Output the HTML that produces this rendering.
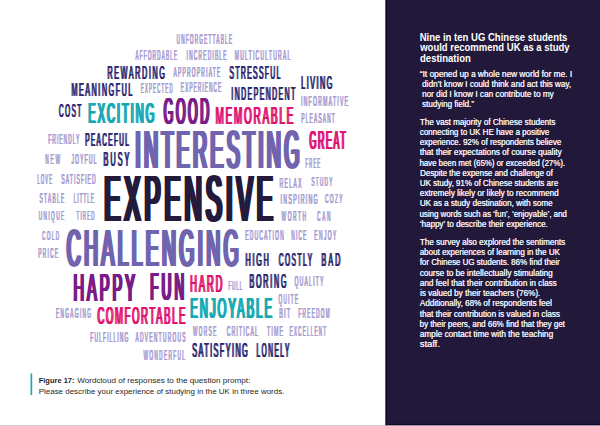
<!DOCTYPE html>
<html><head><meta charset="utf-8"><style>
html,body{margin:0;padding:0;background:#fff;width:600px;height:426px;overflow:hidden}
svg{display:block;font-family:"Liberation Sans",sans-serif}
</style></head><body>
<svg width="600" height="426" viewBox="0 0 600 426">
<rect x="0" y="0" width="600" height="426" fill="#fff"/>
<g font-weight="bold">
<g fill="#a89ed2" font-weight="normal"><text transform="translate(176.35,44.00) scale(0.3174,1)" font-size="14.53" textLength="174.22" lengthAdjust="spacing">UNFORGETTABLE</text><text transform="translate(176.65,44.00) scale(0.3174,1)" font-size="14.53" textLength="174.22" lengthAdjust="spacing">UNFORGETTABLE</text><text transform="translate(176.95,44.00) scale(0.3174,1)" font-size="14.53" textLength="174.22" lengthAdjust="spacing">UNFORGETTABLE</text></g>
<g fill="#a89ed2" font-weight="normal"><text transform="translate(135.21,60.00) scale(0.3161,1)" font-size="14.53" textLength="131.55" lengthAdjust="spacing">AFFORDABLE</text><text transform="translate(135.51,60.00) scale(0.3161,1)" font-size="14.53" textLength="131.55" lengthAdjust="spacing">AFFORDABLE</text><text transform="translate(135.81,60.00) scale(0.3161,1)" font-size="14.53" textLength="131.55" lengthAdjust="spacing">AFFORDABLE</text></g>
<g fill="#a89ed2" font-weight="normal"><text transform="translate(186.32,60.00) scale(0.3330,1)" font-size="14.53" textLength="119.71" lengthAdjust="spacing">INCREDIBLE</text><text transform="translate(186.62,60.00) scale(0.3330,1)" font-size="14.53" textLength="119.71" lengthAdjust="spacing">INCREDIBLE</text><text transform="translate(186.92,60.00) scale(0.3330,1)" font-size="14.53" textLength="119.71" lengthAdjust="spacing">INCREDIBLE</text></g>
<g fill="#a89ed2" font-weight="normal"><text transform="translate(234.44,60.00) scale(0.3453,1)" font-size="14.53" textLength="160.84" lengthAdjust="spacing">MULTICULTURAL</text><text transform="translate(234.74,60.00) scale(0.3453,1)" font-size="14.53" textLength="160.84" lengthAdjust="spacing">MULTICULTURAL</text><text transform="translate(235.04,60.00) scale(0.3453,1)" font-size="14.53" textLength="160.84" lengthAdjust="spacing">MULTICULTURAL</text></g>
<g fill="#2d2870" font-weight="normal"><text transform="translate(107.07,78.60) scale(0.3855,1)" font-size="18.31" textLength="148.76" lengthAdjust="spacing">REWARDING</text><text transform="translate(107.51,78.60) scale(0.3855,1)" font-size="18.31" textLength="148.76" lengthAdjust="spacing">REWARDING</text><text transform="translate(107.95,78.60) scale(0.3855,1)" font-size="18.31" textLength="148.76" lengthAdjust="spacing">REWARDING</text></g>
<g fill="#a89ed2" font-weight="normal"><text transform="translate(173.27,77.00) scale(0.3536,1)" font-size="13.81" textLength="132.24" lengthAdjust="spacing">APPROPRIATE</text><text transform="translate(173.56,77.00) scale(0.3536,1)" font-size="13.81" textLength="132.24" lengthAdjust="spacing">APPROPRIATE</text><text transform="translate(173.84,77.00) scale(0.3536,1)" font-size="13.81" textLength="132.24" lengthAdjust="spacing">APPROPRIATE</text></g>
<g fill="#2d2870" font-weight="normal"><text transform="translate(229.05,79.00) scale(0.3554,1)" font-size="18.90" textLength="143.12" lengthAdjust="spacing">STRESSFUL</text><text transform="translate(229.50,79.00) scale(0.3554,1)" font-size="18.90" textLength="143.12" lengthAdjust="spacing">STRESSFUL</text><text transform="translate(229.96,79.00) scale(0.3554,1)" font-size="18.90" textLength="143.12" lengthAdjust="spacing">STRESSFUL</text></g>
<g fill="#2d2870" font-weight="normal"><text transform="translate(300.71,89.00) scale(0.3856,1)" font-size="18.90" textLength="80.82" lengthAdjust="spacing">LIVING</text><text transform="translate(301.16,89.00) scale(0.3856,1)" font-size="18.90" textLength="80.82" lengthAdjust="spacing">LIVING</text><text transform="translate(301.62,89.00) scale(0.3856,1)" font-size="18.90" textLength="80.82" lengthAdjust="spacing">LIVING</text></g>
<g fill="#2d2870" font-weight="normal"><text transform="translate(71.01,96.00) scale(0.3771,1)" font-size="18.90" textLength="161.38" lengthAdjust="spacing">MEANINGFUL</text><text transform="translate(71.47,96.00) scale(0.3771,1)" font-size="18.90" textLength="161.38" lengthAdjust="spacing">MEANINGFUL</text><text transform="translate(71.92,96.00) scale(0.3771,1)" font-size="18.90" textLength="161.38" lengthAdjust="spacing">MEANINGFUL</text></g>
<g fill="#a89ed2" font-weight="normal"><text transform="translate(140.59,92.50) scale(0.3117,1)" font-size="13.81" textLength="101.60" lengthAdjust="spacing">EXPECTED</text><text transform="translate(140.88,92.50) scale(0.3117,1)" font-size="13.81" textLength="101.60" lengthAdjust="spacing">EXPECTED</text><text transform="translate(141.16,92.50) scale(0.3117,1)" font-size="13.81" textLength="101.60" lengthAdjust="spacing">EXPECTED</text></g>
<g fill="#a89ed2" font-weight="normal"><text transform="translate(180.59,91.70) scale(0.3244,1)" font-size="14.10" textLength="124.20" lengthAdjust="spacing">EXPERIENCE</text><text transform="translate(180.88,91.70) scale(0.3244,1)" font-size="14.10" textLength="124.20" lengthAdjust="spacing">EXPERIENCE</text><text transform="translate(181.17,91.70) scale(0.3244,1)" font-size="14.10" textLength="124.20" lengthAdjust="spacing">EXPERIENCE</text></g>
<g fill="#2d2870" font-weight="normal"><text transform="translate(230.88,100.00) scale(0.3732,1)" font-size="18.31" textLength="171.39" lengthAdjust="spacing">INDEPENDENT</text><text transform="translate(231.32,100.00) scale(0.3732,1)" font-size="18.31" textLength="171.39" lengthAdjust="spacing">INDEPENDENT</text><text transform="translate(231.76,100.00) scale(0.3732,1)" font-size="18.31" textLength="171.39" lengthAdjust="spacing">INDEPENDENT</text></g>
<g fill="#a89ed2" font-weight="normal"><text transform="translate(300.65,106.00) scale(0.3493,1)" font-size="14.53" textLength="134.67" lengthAdjust="spacing">INFORMATIVE</text><text transform="translate(300.95,106.00) scale(0.3493,1)" font-size="14.53" textLength="134.67" lengthAdjust="spacing">INFORMATIVE</text><text transform="translate(301.25,106.00) scale(0.3493,1)" font-size="14.53" textLength="134.67" lengthAdjust="spacing">INFORMATIVE</text></g>
<g fill="#2d2870" font-weight="normal"><text transform="translate(58.50,117.00) scale(0.3702,1)" font-size="17.44" textLength="60.49" lengthAdjust="spacing">COST</text><text transform="translate(58.92,117.00) scale(0.3702,1)" font-size="17.44" textLength="60.49" lengthAdjust="spacing">COST</text><text transform="translate(59.34,117.00) scale(0.3702,1)" font-size="17.44" textLength="60.49" lengthAdjust="spacing">COST</text></g>
<g fill="#17a9b3" font-weight="normal"><text transform="translate(87.41,123.00) scale(0.3795,1)" font-size="29.65" textLength="174.26" lengthAdjust="spacing">EXCITING</text><text transform="translate(87.95,123.00) scale(0.3795,1)" font-size="29.65" textLength="174.26" lengthAdjust="spacing">EXCITING</text><text transform="translate(88.50,123.00) scale(0.3795,1)" font-size="29.65" textLength="174.26" lengthAdjust="spacing">EXCITING</text><text transform="translate(89.04,123.00) scale(0.3795,1)" font-size="29.65" textLength="174.26" lengthAdjust="spacing">EXCITING</text></g>
<g fill="#7a1b87" font-weight="normal"><text transform="translate(162.67,124.00) scale(0.3387,1)" font-size="36.34" textLength="134.45" lengthAdjust="spacing">GOOD</text><text transform="translate(163.34,124.00) scale(0.3387,1)" font-size="36.34" textLength="134.45" lengthAdjust="spacing">GOOD</text><text transform="translate(164.00,124.00) scale(0.3387,1)" font-size="36.34" textLength="134.45" lengthAdjust="spacing">GOOD</text><text transform="translate(164.67,124.00) scale(0.3387,1)" font-size="36.34" textLength="134.45" lengthAdjust="spacing">GOOD</text></g>
<g fill="#e0116f" font-weight="normal"><text transform="translate(214.88,123.50) scale(0.4095,1)" font-size="23.98" textLength="189.98" lengthAdjust="spacing">MEMORABLE</text><text transform="translate(215.54,123.50) scale(0.4095,1)" font-size="23.98" textLength="189.98" lengthAdjust="spacing">MEMORABLE</text><text transform="translate(216.20,123.50) scale(0.4095,1)" font-size="23.98" textLength="189.98" lengthAdjust="spacing">MEMORABLE</text></g>
<g fill="#a89ed2" font-weight="normal"><text transform="translate(301.07,122.60) scale(0.3285,1)" font-size="14.53" textLength="101.59" lengthAdjust="spacing">PLEASANT</text><text transform="translate(301.37,122.60) scale(0.3285,1)" font-size="14.53" textLength="101.59" lengthAdjust="spacing">PLEASANT</text><text transform="translate(301.67,122.60) scale(0.3285,1)" font-size="14.53" textLength="101.59" lengthAdjust="spacing">PLEASANT</text></g>
<g fill="#a89ed2" font-weight="normal"><text transform="translate(48.07,143.60) scale(0.3394,1)" font-size="13.95" textLength="91.10" lengthAdjust="spacing">FRIENDLY</text><text transform="translate(48.36,143.60) scale(0.3394,1)" font-size="13.95" textLength="91.10" lengthAdjust="spacing">FRIENDLY</text><text transform="translate(48.65,143.60) scale(0.3394,1)" font-size="13.95" textLength="91.10" lengthAdjust="spacing">FRIENDLY</text></g>
<g fill="#2d2870" font-weight="normal"><text transform="translate(84.75,146.00) scale(0.3401,1)" font-size="18.90" textLength="128.43" lengthAdjust="spacing">PEACEFUL</text><text transform="translate(85.20,146.00) scale(0.3401,1)" font-size="18.90" textLength="128.43" lengthAdjust="spacing">PEACEFUL</text><text transform="translate(85.66,146.00) scale(0.3401,1)" font-size="18.90" textLength="128.43" lengthAdjust="spacing">PEACEFUL</text></g>
<g fill="#7064ae" font-weight="normal"><text transform="translate(133.82,167.50) scale(0.3590,1)" font-size="54.51" textLength="457.25" lengthAdjust="spacing">INTERESTING</text><text transform="translate(134.42,167.50) scale(0.3590,1)" font-size="54.51" textLength="457.25" lengthAdjust="spacing">INTERESTING</text><text transform="translate(135.02,167.50) scale(0.3590,1)" font-size="54.51" textLength="457.25" lengthAdjust="spacing">INTERESTING</text><text transform="translate(135.62,167.50) scale(0.3590,1)" font-size="54.51" textLength="457.25" lengthAdjust="spacing">INTERESTING</text><text transform="translate(136.22,167.50) scale(0.3590,1)" font-size="54.51" textLength="457.25" lengthAdjust="spacing">INTERESTING</text><text transform="translate(136.82,167.50) scale(0.3590,1)" font-size="54.51" textLength="457.25" lengthAdjust="spacing">INTERESTING</text></g>
<g fill="#e0116f" font-weight="normal"><text transform="translate(308.85,148.50) scale(0.3492,1)" font-size="25.44" textLength="103.37" lengthAdjust="spacing">GREAT</text><text transform="translate(309.32,148.50) scale(0.3492,1)" font-size="25.44" textLength="103.37" lengthAdjust="spacing">GREAT</text><text transform="translate(309.79,148.50) scale(0.3492,1)" font-size="25.44" textLength="103.37" lengthAdjust="spacing">GREAT</text><text transform="translate(310.25,148.50) scale(0.3492,1)" font-size="25.44" textLength="103.37" lengthAdjust="spacing">GREAT</text></g>
<g fill="#a89ed2" font-weight="normal"><text transform="translate(45.07,163.60) scale(0.3273,1)" font-size="14.53" textLength="44.92" lengthAdjust="spacing">NEW</text><text transform="translate(45.37,163.60) scale(0.3273,1)" font-size="14.53" textLength="44.92" lengthAdjust="spacing">NEW</text><text transform="translate(45.67,163.60) scale(0.3273,1)" font-size="14.53" textLength="44.92" lengthAdjust="spacing">NEW</text></g>
<g fill="#a89ed2" font-weight="normal"><text transform="translate(71.16,163.60) scale(0.3364,1)" font-size="14.53" textLength="73.83" lengthAdjust="spacing">JOYFUL</text><text transform="translate(71.46,163.60) scale(0.3364,1)" font-size="14.53" textLength="73.83" lengthAdjust="spacing">JOYFUL</text><text transform="translate(71.76,163.60) scale(0.3364,1)" font-size="14.53" textLength="73.83" lengthAdjust="spacing">JOYFUL</text></g>
<g fill="#2d2870" font-weight="normal"><text transform="translate(103.09,166.40) scale(0.3726,1)" font-size="19.48" textLength="69.13" lengthAdjust="spacing">BUSY</text><text transform="translate(103.56,166.40) scale(0.3726,1)" font-size="19.48" textLength="69.13" lengthAdjust="spacing">BUSY</text><text transform="translate(104.03,166.40) scale(0.3726,1)" font-size="19.48" textLength="69.13" lengthAdjust="spacing">BUSY</text></g>
<g fill="#a89ed2" font-weight="normal"><text transform="translate(305.25,167.60) scale(0.2867,1)" font-size="13.95" textLength="50.56" lengthAdjust="spacing">FREE</text><text transform="translate(305.54,167.60) scale(0.2867,1)" font-size="13.95" textLength="50.56" lengthAdjust="spacing">FREE</text><text transform="translate(305.82,167.60) scale(0.2867,1)" font-size="13.95" textLength="50.56" lengthAdjust="spacing">FREE</text></g>
<g fill="#a89ed2" font-weight="normal"><text transform="translate(37.09,184.00) scale(0.2863,1)" font-size="14.53" textLength="51.12" lengthAdjust="spacing">LOVE</text><text transform="translate(37.39,184.00) scale(0.2863,1)" font-size="14.53" textLength="51.12" lengthAdjust="spacing">LOVE</text><text transform="translate(37.69,184.00) scale(0.2863,1)" font-size="14.53" textLength="51.12" lengthAdjust="spacing">LOVE</text></g>
<g fill="#a89ed2" font-weight="normal"><text transform="translate(61.07,184.00) scale(0.3408,1)" font-size="14.53" textLength="100.44" lengthAdjust="spacing">SATISFIED</text><text transform="translate(61.37,184.00) scale(0.3408,1)" font-size="14.53" textLength="100.44" lengthAdjust="spacing">SATISFIED</text><text transform="translate(61.67,184.00) scale(0.3408,1)" font-size="14.53" textLength="100.44" lengthAdjust="spacing">SATISFIED</text></g>
<g fill="#241a3c" font-weight="normal"><text transform="translate(102.53,221.00) scale(0.3660,1)" font-size="65.41" textLength="460.08" lengthAdjust="spacing">EXPENSIVE</text><text transform="translate(103.13,221.00) scale(0.3660,1)" font-size="65.41" textLength="460.08" lengthAdjust="spacing">EXPENSIVE</text><text transform="translate(103.73,221.00) scale(0.3660,1)" font-size="65.41" textLength="460.08" lengthAdjust="spacing">EXPENSIVE</text><text transform="translate(104.33,221.00) scale(0.3660,1)" font-size="65.41" textLength="460.08" lengthAdjust="spacing">EXPENSIVE</text><text transform="translate(104.93,221.00) scale(0.3660,1)" font-size="65.41" textLength="460.08" lengthAdjust="spacing">EXPENSIVE</text><text transform="translate(105.53,221.00) scale(0.3660,1)" font-size="65.41" textLength="460.08" lengthAdjust="spacing">EXPENSIVE</text><text transform="translate(106.13,221.00) scale(0.3660,1)" font-size="65.41" textLength="460.08" lengthAdjust="spacing">EXPENSIVE</text></g>
<g fill="#a89ed2" font-weight="normal"><text transform="translate(279.31,187.60) scale(0.3465,1)" font-size="13.95" textLength="62.86" lengthAdjust="spacing">RELAX</text><text transform="translate(279.60,187.60) scale(0.3465,1)" font-size="13.95" textLength="62.86" lengthAdjust="spacing">RELAX</text><text transform="translate(279.89,187.60) scale(0.3465,1)" font-size="13.95" textLength="62.86" lengthAdjust="spacing">RELAX</text></g>
<g fill="#a89ed2" font-weight="normal"><text transform="translate(311.09,186.40) scale(0.3421,1)" font-size="13.66" textLength="61.12" lengthAdjust="spacing">STUDY</text><text transform="translate(311.38,186.40) scale(0.3421,1)" font-size="13.66" textLength="61.12" lengthAdjust="spacing">STUDY</text><text transform="translate(311.66,186.40) scale(0.3421,1)" font-size="13.66" textLength="61.12" lengthAdjust="spacing">STUDY</text></g>
<g fill="#a89ed2" font-weight="normal"><text transform="translate(39.29,202.60) scale(0.3406,1)" font-size="13.95" textLength="71.96" lengthAdjust="spacing">STABLE</text><text transform="translate(39.58,202.60) scale(0.3406,1)" font-size="13.95" textLength="71.96" lengthAdjust="spacing">STABLE</text><text transform="translate(39.87,202.60) scale(0.3406,1)" font-size="13.95" textLength="71.96" lengthAdjust="spacing">STABLE</text></g>
<g fill="#a89ed2" font-weight="normal"><text transform="translate(73.51,202.60) scale(0.3340,1)" font-size="13.95" textLength="60.34" lengthAdjust="spacing">LITTLE</text><text transform="translate(73.80,202.60) scale(0.3340,1)" font-size="13.95" textLength="60.34" lengthAdjust="spacing">LITTLE</text><text transform="translate(74.09,202.60) scale(0.3340,1)" font-size="13.95" textLength="60.34" lengthAdjust="spacing">LITTLE</text></g>
<g fill="#a89ed2" font-weight="normal"><text transform="translate(280.29,204.40) scale(0.3720,1)" font-size="14.24" textLength="99.75" lengthAdjust="spacing">INSPIRING</text><text transform="translate(280.58,204.40) scale(0.3720,1)" font-size="14.24" textLength="99.75" lengthAdjust="spacing">INSPIRING</text><text transform="translate(280.87,204.40) scale(0.3720,1)" font-size="14.24" textLength="99.75" lengthAdjust="spacing">INSPIRING</text></g>
<g fill="#a89ed2" font-weight="normal"><text transform="translate(324.83,203.00) scale(0.3416,1)" font-size="13.66" textLength="50.29" lengthAdjust="spacing">COZY</text><text transform="translate(325.11,203.00) scale(0.3416,1)" font-size="13.66" textLength="50.29" lengthAdjust="spacing">COZY</text><text transform="translate(325.40,203.00) scale(0.3416,1)" font-size="13.66" textLength="50.29" lengthAdjust="spacing">COZY</text></g>
<g fill="#a89ed2" font-weight="normal"><text transform="translate(38.44,220.00) scale(0.3524,1)" font-size="13.66" textLength="72.42" lengthAdjust="spacing">UNIQUE</text><text transform="translate(38.72,220.00) scale(0.3524,1)" font-size="13.66" textLength="72.42" lengthAdjust="spacing">UNIQUE</text><text transform="translate(39.00,220.00) scale(0.3524,1)" font-size="13.66" textLength="72.42" lengthAdjust="spacing">UNIQUE</text></g>
<g fill="#a89ed2" font-weight="normal"><text transform="translate(76.30,220.00) scale(0.3269,1)" font-size="13.66" textLength="55.00" lengthAdjust="spacing">TIRED</text><text transform="translate(76.58,220.00) scale(0.3269,1)" font-size="13.66" textLength="55.00" lengthAdjust="spacing">TIRED</text><text transform="translate(76.87,220.00) scale(0.3269,1)" font-size="13.66" textLength="55.00" lengthAdjust="spacing">TIRED</text></g>
<g fill="#a89ed2" font-weight="normal"><text transform="translate(281.24,221.00) scale(0.3428,1)" font-size="14.10" textLength="71.56" lengthAdjust="spacing">WORTH</text><text transform="translate(281.53,221.00) scale(0.3428,1)" font-size="14.10" textLength="71.56" lengthAdjust="spacing">WORTH</text><text transform="translate(281.83,221.00) scale(0.3428,1)" font-size="14.10" textLength="71.56" lengthAdjust="spacing">WORTH</text></g>
<g fill="#a89ed2" font-weight="normal"><text transform="translate(316.83,221.00) scale(0.3147,1)" font-size="14.53" textLength="42.14" lengthAdjust="spacing">CAN</text><text transform="translate(317.13,221.00) scale(0.3147,1)" font-size="14.53" textLength="42.14" lengthAdjust="spacing">CAN</text><text transform="translate(317.43,221.00) scale(0.3147,1)" font-size="14.53" textLength="42.14" lengthAdjust="spacing">CAN</text></g>
<g fill="#a89ed2" font-weight="normal"><text transform="translate(41.83,240.00) scale(0.3339,1)" font-size="13.66" textLength="51.01" lengthAdjust="spacing">COLD</text><text transform="translate(42.11,240.00) scale(0.3339,1)" font-size="13.66" textLength="51.01" lengthAdjust="spacing">COLD</text><text transform="translate(42.39,240.00) scale(0.3339,1)" font-size="13.66" textLength="51.01" lengthAdjust="spacing">COLD</text></g>
<g fill="#7064ae" font-weight="normal"><text transform="translate(65.37,266.00) scale(0.3691,1)" font-size="52.33" textLength="465.56" lengthAdjust="spacing">CHALLENGING</text><text transform="translate(65.94,266.00) scale(0.3691,1)" font-size="52.33" textLength="465.56" lengthAdjust="spacing">CHALLENGING</text><text transform="translate(66.52,266.00) scale(0.3691,1)" font-size="52.33" textLength="465.56" lengthAdjust="spacing">CHALLENGING</text><text transform="translate(67.10,266.00) scale(0.3691,1)" font-size="52.33" textLength="465.56" lengthAdjust="spacing">CHALLENGING</text><text transform="translate(67.67,266.00) scale(0.3691,1)" font-size="52.33" textLength="465.56" lengthAdjust="spacing">CHALLENGING</text><text transform="translate(68.25,266.00) scale(0.3691,1)" font-size="52.33" textLength="465.56" lengthAdjust="spacing">CHALLENGING</text></g>
<g fill="#a89ed2" font-weight="normal"><text transform="translate(245.07,240.00) scale(0.3326,1)" font-size="14.53" textLength="115.17" lengthAdjust="spacing">EDUCATION</text><text transform="translate(245.37,240.00) scale(0.3326,1)" font-size="14.53" textLength="115.17" lengthAdjust="spacing">EDUCATION</text><text transform="translate(245.67,240.00) scale(0.3326,1)" font-size="14.53" textLength="115.17" lengthAdjust="spacing">EDUCATION</text></g>
<g fill="#a89ed2" font-weight="normal"><text transform="translate(291.07,240.00) scale(0.3321,1)" font-size="14.53" textLength="45.01" lengthAdjust="spacing">NICE</text><text transform="translate(291.37,240.00) scale(0.3321,1)" font-size="14.53" textLength="45.01" lengthAdjust="spacing">NICE</text><text transform="translate(291.67,240.00) scale(0.3321,1)" font-size="14.53" textLength="45.01" lengthAdjust="spacing">NICE</text></g>
<g fill="#a89ed2" font-weight="normal"><text transform="translate(314.07,240.00) scale(0.3332,1)" font-size="14.53" textLength="65.61" lengthAdjust="spacing">ENJOY</text><text transform="translate(314.37,240.00) scale(0.3332,1)" font-size="14.53" textLength="65.61" lengthAdjust="spacing">ENJOY</text><text transform="translate(314.67,240.00) scale(0.3332,1)" font-size="14.53" textLength="65.61" lengthAdjust="spacing">ENJOY</text></g>
<g fill="#a89ed2" font-weight="normal"><text transform="translate(38.07,258.00) scale(0.3310,1)" font-size="14.53" textLength="59.51" lengthAdjust="spacing">PRICE</text><text transform="translate(38.37,258.00) scale(0.3310,1)" font-size="14.53" textLength="59.51" lengthAdjust="spacing">PRICE</text><text transform="translate(38.67,258.00) scale(0.3310,1)" font-size="14.53" textLength="59.51" lengthAdjust="spacing">PRICE</text></g>
<g fill="#2d2870" font-weight="normal"><text transform="translate(245.07,266.00) scale(0.3769,1)" font-size="18.90" textLength="61.59" lengthAdjust="spacing">HIGH</text><text transform="translate(245.53,266.00) scale(0.3769,1)" font-size="18.90" textLength="61.59" lengthAdjust="spacing">HIGH</text><text transform="translate(245.98,266.00) scale(0.3769,1)" font-size="18.90" textLength="61.59" lengthAdjust="spacing">HIGH</text></g>
<g fill="#2d2870" font-weight="normal"><text transform="translate(278.22,266.00) scale(0.3465,1)" font-size="18.90" textLength="96.62" lengthAdjust="spacing">COSTLY</text><text transform="translate(278.67,266.00) scale(0.3465,1)" font-size="18.90" textLength="96.62" lengthAdjust="spacing">COSTLY</text><text transform="translate(279.13,266.00) scale(0.3465,1)" font-size="18.90" textLength="96.62" lengthAdjust="spacing">COSTLY</text></g>
<g fill="#2d2870" font-weight="normal"><text transform="translate(321.07,266.00) scale(0.3681,1)" font-size="18.90" textLength="50.88" lengthAdjust="spacing">BAD</text><text transform="translate(321.53,266.00) scale(0.3681,1)" font-size="18.90" textLength="50.88" lengthAdjust="spacing">BAD</text><text transform="translate(321.98,266.00) scale(0.3681,1)" font-size="18.90" textLength="50.88" lengthAdjust="spacing">BAD</text></g>
<g fill="#7a1b87" font-weight="normal"><text transform="translate(72.42,300.60) scale(0.3784,1)" font-size="38.66" textLength="162.39" lengthAdjust="spacing">HAPPY</text><text transform="translate(72.95,300.60) scale(0.3784,1)" font-size="38.66" textLength="162.39" lengthAdjust="spacing">HAPPY</text><text transform="translate(73.48,300.60) scale(0.3784,1)" font-size="38.66" textLength="162.39" lengthAdjust="spacing">HAPPY</text><text transform="translate(74.02,300.60) scale(0.3784,1)" font-size="38.66" textLength="162.39" lengthAdjust="spacing">HAPPY</text><text transform="translate(74.55,300.60) scale(0.3784,1)" font-size="38.66" textLength="162.39" lengthAdjust="spacing">HAPPY</text></g>
<g fill="#7a1b87" font-weight="normal"><text transform="translate(149.18,300.30) scale(0.3504,1)" font-size="38.23" textLength="97.03" lengthAdjust="spacing">FUN</text><text transform="translate(149.71,300.30) scale(0.3504,1)" font-size="38.23" textLength="97.03" lengthAdjust="spacing">FUN</text><text transform="translate(150.23,300.30) scale(0.3504,1)" font-size="38.23" textLength="97.03" lengthAdjust="spacing">FUN</text><text transform="translate(150.76,300.30) scale(0.3504,1)" font-size="38.23" textLength="97.03" lengthAdjust="spacing">FUN</text><text transform="translate(151.28,300.30) scale(0.3504,1)" font-size="38.23" textLength="97.03" lengthAdjust="spacing">FUN</text></g>
<g fill="#e0116f" font-weight="normal"><text transform="translate(189.53,291.60) scale(0.3864,1)" font-size="24.13" textLength="83.28" lengthAdjust="spacing">HARD</text><text transform="translate(190.19,291.60) scale(0.3864,1)" font-size="24.13" textLength="83.28" lengthAdjust="spacing">HARD</text><text transform="translate(190.86,291.60) scale(0.3864,1)" font-size="24.13" textLength="83.28" lengthAdjust="spacing">HARD</text></g>
<g fill="#a89ed2" font-weight="normal"><text transform="translate(228.09,290.00) scale(0.3233,1)" font-size="13.66" textLength="43.06" lengthAdjust="spacing">FULL</text><text transform="translate(228.38,290.00) scale(0.3233,1)" font-size="13.66" textLength="43.06" lengthAdjust="spacing">FULL</text><text transform="translate(228.66,290.00) scale(0.3233,1)" font-size="13.66" textLength="43.06" lengthAdjust="spacing">FULL</text></g>
<g fill="#2d2870" font-weight="normal"><text transform="translate(249.07,288.00) scale(0.3641,1)" font-size="19.48" textLength="101.26" lengthAdjust="spacing">BORING</text><text transform="translate(249.54,288.00) scale(0.3641,1)" font-size="19.48" textLength="101.26" lengthAdjust="spacing">BORING</text><text transform="translate(250.01,288.00) scale(0.3641,1)" font-size="19.48" textLength="101.26" lengthAdjust="spacing">BORING</text></g>
<g fill="#a89ed2" font-weight="normal"><text transform="translate(294.19,286.00) scale(0.3384,1)" font-size="14.53" textLength="85.42" lengthAdjust="spacing">QUALITY</text><text transform="translate(294.49,286.00) scale(0.3384,1)" font-size="14.53" textLength="85.42" lengthAdjust="spacing">QUALITY</text><text transform="translate(294.79,286.00) scale(0.3384,1)" font-size="14.53" textLength="85.42" lengthAdjust="spacing">QUALITY</text></g>
<g fill="#a89ed2" font-weight="normal"><text transform="translate(278.17,304.00) scale(0.3381,1)" font-size="13.95" textLength="57.92" lengthAdjust="spacing">QUITE</text><text transform="translate(278.46,304.00) scale(0.3381,1)" font-size="13.95" textLength="57.92" lengthAdjust="spacing">QUITE</text><text transform="translate(278.74,304.00) scale(0.3381,1)" font-size="13.95" textLength="57.92" lengthAdjust="spacing">QUITE</text></g>
<g fill="#17a9b3" font-weight="normal"><text transform="translate(189.41,318.00) scale(0.3901,1)" font-size="29.07" textLength="209.67" lengthAdjust="spacing">ENJOYABLE</text><text transform="translate(189.94,318.00) scale(0.3901,1)" font-size="29.07" textLength="209.67" lengthAdjust="spacing">ENJOYABLE</text><text transform="translate(190.47,318.00) scale(0.3901,1)" font-size="29.07" textLength="209.67" lengthAdjust="spacing">ENJOYABLE</text><text transform="translate(191.01,318.00) scale(0.3901,1)" font-size="29.07" textLength="209.67" lengthAdjust="spacing">ENJOYABLE</text></g>
<g fill="#a89ed2" font-weight="normal"><text transform="translate(55.68,318.10) scale(0.3250,1)" font-size="14.68" textLength="107.75" lengthAdjust="spacing">ENGAGING</text><text transform="translate(55.99,318.10) scale(0.3250,1)" font-size="14.68" textLength="107.75" lengthAdjust="spacing">ENGAGING</text><text transform="translate(56.29,318.10) scale(0.3250,1)" font-size="14.68" textLength="107.75" lengthAdjust="spacing">ENGAGING</text></g>
<g fill="#e0116f" font-weight="normal"><text transform="translate(96.81,324.20) scale(0.3927,1)" font-size="24.13" textLength="223.93" lengthAdjust="spacing">COMFORTABLE</text><text transform="translate(97.47,324.20) scale(0.3927,1)" font-size="24.13" textLength="223.93" lengthAdjust="spacing">COMFORTABLE</text><text transform="translate(98.14,324.20) scale(0.3927,1)" font-size="24.13" textLength="223.93" lengthAdjust="spacing">COMFORTABLE</text></g>
<g fill="#a89ed2" font-weight="normal"><text transform="translate(279.05,318.40) scale(0.3633,1)" font-size="14.53" textLength="29.50" lengthAdjust="spacing">BIT</text><text transform="translate(279.35,318.40) scale(0.3633,1)" font-size="14.53" textLength="29.50" lengthAdjust="spacing">BIT</text><text transform="translate(279.65,318.40) scale(0.3633,1)" font-size="14.53" textLength="29.50" lengthAdjust="spacing">BIT</text></g>
<g fill="#a89ed2" font-weight="normal"><text transform="translate(298.09,318.00) scale(0.3174,1)" font-size="14.53" textLength="98.47" lengthAdjust="spacing">FREEDOM</text><text transform="translate(298.39,318.00) scale(0.3174,1)" font-size="14.53" textLength="98.47" lengthAdjust="spacing">FREEDOM</text><text transform="translate(298.69,318.00) scale(0.3174,1)" font-size="14.53" textLength="98.47" lengthAdjust="spacing">FREEDOM</text></g>
<g fill="#a89ed2" font-weight="normal"><text transform="translate(90.07,342.00) scale(0.3360,1)" font-size="14.53" textLength="112.94" lengthAdjust="spacing">FULFILLING</text><text transform="translate(90.37,342.00) scale(0.3360,1)" font-size="14.53" textLength="112.94" lengthAdjust="spacing">FULFILLING</text><text transform="translate(90.67,342.00) scale(0.3360,1)" font-size="14.53" textLength="112.94" lengthAdjust="spacing">FULFILLING</text></g>
<g fill="#a89ed2" font-weight="normal"><text transform="translate(135.21,342.00) scale(0.3299,1)" font-size="14.53" textLength="151.53" lengthAdjust="spacing">ADVENTUROUS</text><text transform="translate(135.51,342.00) scale(0.3299,1)" font-size="14.53" textLength="151.53" lengthAdjust="spacing">ADVENTUROUS</text><text transform="translate(135.81,342.00) scale(0.3299,1)" font-size="14.53" textLength="151.53" lengthAdjust="spacing">ADVENTUROUS</text></g>
<g fill="#a89ed2" font-weight="normal"><text transform="translate(192.64,335.80) scale(0.3253,1)" font-size="14.24" textLength="71.77" lengthAdjust="spacing">WORSE</text><text transform="translate(192.94,335.80) scale(0.3253,1)" font-size="14.24" textLength="71.77" lengthAdjust="spacing">WORSE</text><text transform="translate(193.23,335.80) scale(0.3253,1)" font-size="14.24" textLength="71.77" lengthAdjust="spacing">WORSE</text></g>
<g fill="#a89ed2" font-weight="normal"><text transform="translate(226.55,336.00) scale(0.3418,1)" font-size="14.53" textLength="90.75" lengthAdjust="spacing">CRITICAL</text><text transform="translate(226.85,336.00) scale(0.3418,1)" font-size="14.53" textLength="90.75" lengthAdjust="spacing">CRITICAL</text><text transform="translate(227.15,336.00) scale(0.3418,1)" font-size="14.53" textLength="90.75" lengthAdjust="spacing">CRITICAL</text></g>
<g fill="#a89ed2" font-weight="normal"><text transform="translate(266.77,336.00) scale(0.3570,1)" font-size="14.53" textLength="44.59" lengthAdjust="spacing">TIME</text><text transform="translate(267.07,336.00) scale(0.3570,1)" font-size="14.53" textLength="44.59" lengthAdjust="spacing">TIME</text><text transform="translate(267.37,336.00) scale(0.3570,1)" font-size="14.53" textLength="44.59" lengthAdjust="spacing">TIME</text></g>
<g fill="#a89ed2" font-weight="normal"><text transform="translate(289.35,336.00) scale(0.3128,1)" font-size="14.53" textLength="116.21" lengthAdjust="spacing">EXCELLENT</text><text transform="translate(289.65,336.00) scale(0.3128,1)" font-size="14.53" textLength="116.21" lengthAdjust="spacing">EXCELLENT</text><text transform="translate(289.95,336.00) scale(0.3128,1)" font-size="14.53" textLength="116.21" lengthAdjust="spacing">EXCELLENT</text></g>
<g fill="#a89ed2" font-weight="normal"><text transform="translate(143.24,359.60) scale(0.3092,1)" font-size="15.41" textLength="133.68" lengthAdjust="spacing">WONDERFUL</text><text transform="translate(143.56,359.60) scale(0.3092,1)" font-size="15.41" textLength="133.68" lengthAdjust="spacing">WONDERFUL</text><text transform="translate(143.88,359.60) scale(0.3092,1)" font-size="15.41" textLength="133.68" lengthAdjust="spacing">WONDERFUL</text></g>
<g fill="#2d2870" font-weight="normal"><text transform="translate(191.81,356.70) scale(0.3723,1)" font-size="19.48" textLength="148.97" lengthAdjust="spacing">SATISFYING</text><text transform="translate(192.28,356.70) scale(0.3723,1)" font-size="19.48" textLength="148.97" lengthAdjust="spacing">SATISFYING</text><text transform="translate(192.75,356.70) scale(0.3723,1)" font-size="19.48" textLength="148.97" lengthAdjust="spacing">SATISFYING</text></g>
<g fill="#2d2870" font-weight="normal"><text transform="translate(256.01,356.50) scale(0.3343,1)" font-size="19.62" textLength="98.23" lengthAdjust="spacing">LONELY</text><text transform="translate(256.48,356.50) scale(0.3343,1)" font-size="19.62" textLength="98.23" lengthAdjust="spacing">LONELY</text><text transform="translate(256.96,356.50) scale(0.3343,1)" font-size="19.62" textLength="98.23" lengthAdjust="spacing">LONELY</text></g>
</g>
<rect x="30.5" y="373.5" width="1.7" height="21.5" fill="#1aa9b3"/>
<text x="38.7" y="382.7" font-size="8" font-weight="bold" fill="#1f1f1f" textLength="35.8" lengthAdjust="spacingAndGlyphs">Figure 17:</text>
<text x="77.2" y="382.7" font-size="8" fill="#1f1f1f" textLength="173.2" lengthAdjust="spacingAndGlyphs">Wordcloud of responses to the question prompt:</text>
<text x="38.7" y="393.6" font-size="8" fill="#1f1f1f" textLength="245.7" lengthAdjust="spacingAndGlyphs">Please describe your experience of studying in the UK in three words.</text>
<rect x="385.5" y="0" width="214.5" height="425" fill="#22193a"/>
<rect x="385.6" y="0" width="1.2" height="424.5" fill="#0e0629"/>
<rect x="385.5" y="423.8" width="214.5" height="1" fill="#0e0629"/>
<rect x="0" y="425" width="385" height="1" fill="#d2d2d2"/>
<rect x="385" y="425" width="215" height="1" fill="#9d99a8"/>
<text x="419.67" y="40.60" font-size="10.10" font-weight="bold" textLength="147.78" lengthAdjust="spacingAndGlyphs" fill="#ffffff">Nine in ten UG Chinese students</text>
<text x="420.24" y="51.10" font-size="10.10" font-weight="bold" textLength="149.37" lengthAdjust="spacingAndGlyphs" fill="#ffffff">would recommend UK as a study</text>
<text x="420.05" y="61.60" font-size="10.10" font-weight="bold" textLength="50.78" lengthAdjust="spacingAndGlyphs" fill="#ffffff">destination</text>
<text x="419.74" y="76.60" font-size="8.30" font-weight="normal" textLength="152.21" lengthAdjust="spacingAndGlyphs" fill="#efedf4">“It opened up a whole new world for me. I</text>
<text x="419.99" y="76.60" font-size="8.30" font-weight="normal" textLength="152.21" lengthAdjust="spacingAndGlyphs" fill="#efedf4">“It opened up a whole new world for me. I</text>
<text x="422.07" y="86.70" font-size="8.30" font-weight="normal" textLength="148.92" lengthAdjust="spacingAndGlyphs" fill="#efedf4">didn’t know I could think and act this way,</text>
<text x="422.32" y="86.70" font-size="8.30" font-weight="normal" textLength="148.92" lengthAdjust="spacingAndGlyphs" fill="#efedf4">didn’t know I could think and act this way,</text>
<text x="421.94" y="96.80" font-size="8.30" font-weight="normal" textLength="131.71" lengthAdjust="spacingAndGlyphs" fill="#efedf4">nor did I know I can contribute to my</text>
<text x="422.19" y="96.80" font-size="8.30" font-weight="normal" textLength="131.71" lengthAdjust="spacingAndGlyphs" fill="#efedf4">nor did I know I can contribute to my</text>
<text x="422.03" y="106.90" font-size="8.30" font-weight="normal" textLength="51.81" lengthAdjust="spacingAndGlyphs" fill="#efedf4">studying field.”</text>
<text x="422.28" y="106.90" font-size="8.30" font-weight="normal" textLength="51.81" lengthAdjust="spacingAndGlyphs" fill="#efedf4">studying field.”</text>
<text x="419.75" y="124.70" font-size="8.30" font-weight="normal" textLength="135.46" lengthAdjust="spacingAndGlyphs" fill="#efedf4">The vast majority of Chinese students</text>
<text x="420.00" y="124.70" font-size="8.30" font-weight="normal" textLength="135.46" lengthAdjust="spacingAndGlyphs" fill="#efedf4">The vast majority of Chinese students</text>
<text x="419.69" y="134.90" font-size="8.30" font-weight="normal" textLength="129.41" lengthAdjust="spacingAndGlyphs" fill="#efedf4">connecting to UK HE have a positive</text>
<text x="419.94" y="134.90" font-size="8.30" font-weight="normal" textLength="129.41" lengthAdjust="spacingAndGlyphs" fill="#efedf4">connecting to UK HE have a positive</text>
<text x="419.65" y="145.10" font-size="8.30" font-weight="normal" textLength="141.44" lengthAdjust="spacingAndGlyphs" fill="#efedf4">experience. 92% of respondents believe</text>
<text x="419.90" y="145.10" font-size="8.30" font-weight="normal" textLength="141.44" lengthAdjust="spacingAndGlyphs" fill="#efedf4">experience. 92% of respondents believe</text>
<text x="419.76" y="155.30" font-size="8.30" font-weight="normal" textLength="141.86" lengthAdjust="spacingAndGlyphs" fill="#efedf4">that their expectations of course quality</text>
<text x="420.01" y="155.30" font-size="8.30" font-weight="normal" textLength="141.86" lengthAdjust="spacingAndGlyphs" fill="#efedf4">that their expectations of course quality</text>
<text x="419.40" y="165.50" font-size="8.30" font-weight="normal" textLength="145.53" lengthAdjust="spacingAndGlyphs" fill="#efedf4">have been met (65%) or exceeded (27%).</text>
<text x="419.65" y="165.50" font-size="8.30" font-weight="normal" textLength="145.53" lengthAdjust="spacingAndGlyphs" fill="#efedf4">have been met (65%) or exceeded (27%).</text>
<text x="420.02" y="175.70" font-size="8.30" font-weight="normal" textLength="132.59" lengthAdjust="spacingAndGlyphs" fill="#efedf4">Despite the expense and challenge of</text>
<text x="420.27" y="175.70" font-size="8.30" font-weight="normal" textLength="132.59" lengthAdjust="spacingAndGlyphs" fill="#efedf4">Despite the expense and challenge of</text>
<text x="419.76" y="185.90" font-size="8.30" font-weight="normal" textLength="138.32" lengthAdjust="spacingAndGlyphs" fill="#efedf4">UK study, 91% of Chinese students are</text>
<text x="420.01" y="185.90" font-size="8.30" font-weight="normal" textLength="138.32" lengthAdjust="spacingAndGlyphs" fill="#efedf4">UK study, 91% of Chinese students are</text>
<text x="419.65" y="196.10" font-size="8.30" font-weight="normal" textLength="138.90" lengthAdjust="spacingAndGlyphs" fill="#efedf4">extremely likely or likely to recommend</text>
<text x="419.90" y="196.10" font-size="8.30" font-weight="normal" textLength="138.90" lengthAdjust="spacingAndGlyphs" fill="#efedf4">extremely likely or likely to recommend</text>
<text x="419.76" y="206.30" font-size="8.30" font-weight="normal" textLength="132.80" lengthAdjust="spacingAndGlyphs" fill="#efedf4">UK as a study destination, with some</text>
<text x="420.01" y="206.30" font-size="8.30" font-weight="normal" textLength="132.80" lengthAdjust="spacingAndGlyphs" fill="#efedf4">UK as a study destination, with some</text>
<text x="419.41" y="216.50" font-size="8.30" font-weight="normal" textLength="147.32" lengthAdjust="spacingAndGlyphs" fill="#efedf4">using words such as ‘fun’, ‘enjoyable’, and</text>
<text x="419.66" y="216.50" font-size="8.30" font-weight="normal" textLength="147.32" lengthAdjust="spacingAndGlyphs" fill="#efedf4">using words such as ‘fun’, ‘enjoyable’, and</text>
<text x="419.80" y="226.70" font-size="8.30" font-weight="normal" textLength="127.78" lengthAdjust="spacingAndGlyphs" fill="#efedf4">‘happy’ to describe their experience.</text>
<text x="420.05" y="226.70" font-size="8.30" font-weight="normal" textLength="127.78" lengthAdjust="spacingAndGlyphs" fill="#efedf4">‘happy’ to describe their experience.</text>
<text x="419.75" y="244.70" font-size="8.30" font-weight="normal" textLength="145.26" lengthAdjust="spacingAndGlyphs" fill="#efedf4">The survey also explored the sentiments</text>
<text x="420.00" y="244.70" font-size="8.30" font-weight="normal" textLength="145.26" lengthAdjust="spacingAndGlyphs" fill="#efedf4">The survey also explored the sentiments</text>
<text x="419.66" y="254.97" font-size="8.30" font-weight="normal" textLength="140.16" lengthAdjust="spacingAndGlyphs" fill="#efedf4">about experiences of learning in the UK</text>
<text x="419.91" y="254.97" font-size="8.30" font-weight="normal" textLength="140.16" lengthAdjust="spacingAndGlyphs" fill="#efedf4">about experiences of learning in the UK</text>
<text x="419.67" y="265.24" font-size="8.30" font-weight="normal" textLength="139.99" lengthAdjust="spacingAndGlyphs" fill="#efedf4">for Chinese UG students. 86% find their</text>
<text x="419.92" y="265.24" font-size="8.30" font-weight="normal" textLength="139.99" lengthAdjust="spacingAndGlyphs" fill="#efedf4">for Chinese UG students. 86% find their</text>
<text x="419.67" y="275.51" font-size="8.30" font-weight="normal" textLength="132.97" lengthAdjust="spacingAndGlyphs" fill="#efedf4">course to be intellectually stimulating</text>
<text x="419.92" y="275.51" font-size="8.30" font-weight="normal" textLength="132.97" lengthAdjust="spacingAndGlyphs" fill="#efedf4">course to be intellectually stimulating</text>
<text x="419.66" y="285.78" font-size="8.30" font-weight="normal" textLength="137.04" lengthAdjust="spacingAndGlyphs" fill="#efedf4">and feel that their contribution in class</text>
<text x="419.91" y="285.78" font-size="8.30" font-weight="normal" textLength="137.04" lengthAdjust="spacingAndGlyphs" fill="#efedf4">and feel that their contribution in class</text>
<text x="419.90" y="296.05" font-size="8.30" font-weight="normal" textLength="120.23" lengthAdjust="spacingAndGlyphs" fill="#efedf4">is valued by their teachers (76%).</text>
<text x="420.15" y="296.05" font-size="8.30" font-weight="normal" textLength="120.23" lengthAdjust="spacingAndGlyphs" fill="#efedf4">is valued by their teachers (76%).</text>
<text x="419.86" y="306.32" font-size="8.30" font-weight="normal" textLength="132.02" lengthAdjust="spacingAndGlyphs" fill="#efedf4">Additionally, 68% of respondents feel</text>
<text x="420.11" y="306.32" font-size="8.30" font-weight="normal" textLength="132.02" lengthAdjust="spacingAndGlyphs" fill="#efedf4">Additionally, 68% of respondents feel</text>
<text x="419.70" y="316.59" font-size="8.30" font-weight="normal" textLength="140.24" lengthAdjust="spacingAndGlyphs" fill="#efedf4">that their contribution is valued in class</text>
<text x="419.95" y="316.59" font-size="8.30" font-weight="normal" textLength="140.24" lengthAdjust="spacingAndGlyphs" fill="#efedf4">that their contribution is valued in class</text>
<text x="419.52" y="326.86" font-size="8.30" font-weight="normal" textLength="145.31" lengthAdjust="spacingAndGlyphs" fill="#efedf4">by their peers, and 66% find that they get</text>
<text x="419.77" y="326.86" font-size="8.30" font-weight="normal" textLength="145.31" lengthAdjust="spacingAndGlyphs" fill="#efedf4">by their peers, and 66% find that they get</text>
<text x="419.63" y="337.13" font-size="8.30" font-weight="normal" textLength="133.40" lengthAdjust="spacingAndGlyphs" fill="#efedf4">ample contact time with the teaching</text>
<text x="419.88" y="337.13" font-size="8.30" font-weight="normal" textLength="133.40" lengthAdjust="spacingAndGlyphs" fill="#efedf4">ample contact time with the teaching</text>
<text x="419.77" y="347.40" font-size="8.30" font-weight="normal" textLength="19.97" lengthAdjust="spacingAndGlyphs" fill="#efedf4">staff.</text>
<text x="420.02" y="347.40" font-size="8.30" font-weight="normal" textLength="19.97" lengthAdjust="spacingAndGlyphs" fill="#efedf4">staff.</text>
</svg></body></html>
